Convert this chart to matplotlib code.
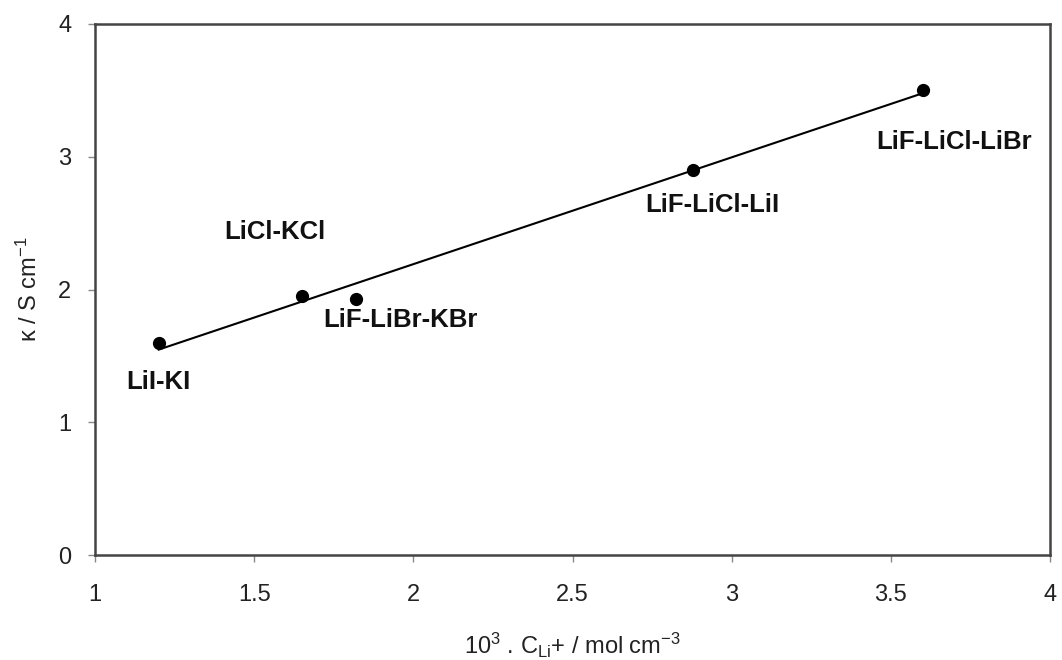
import numpy as np
import matplotlib
matplotlib.use("Agg")
import matplotlib.pyplot as plt

plt.rcParams['font.family'] = ['Liberation Sans', 'DejaVu Sans']
plt.rcParams['mathtext.default'] = 'regular'

# datos
c_li = [1.2, 1.65, 1.82, 2.88, 3.6]
kappa = [1.6, 1.95, 1.93, 2.9, 3.5]
names = ["LiI-KI", "LiCl-KCl", "LiF-LiBr-KBr", "LiF-LiCl-LiI", "LiF-LiCl-LiBr"]
label_x = [1.198, 1.566, 1.958, 2.94, 3.70]
label_y = [1.30, 2.43, 1.77, 2.64, 3.11]

x_ticks = [1, 1.5, 2, 2.5, 3, 3.5, 4]
x_tick_labels = ["1", "1.5", "2", "2.5", "3", "3.5", "4"]
y_ticks = [0, 1, 2, 3, 4]

# ajuste lineal
m, b = np.polyfit(c_li, kappa, 1)
xf = np.array([min(c_li), max(c_li)])

fig = plt.figure(figsize=(10.62, 6.6), dpi=100)
ax = fig.add_axes([95/1062, 1 - 555/660, 955/1062, 531/660])

ax.plot(xf, m * xf + b, color="black", lw=1.5)
ax.plot(c_li, kappa, "o", color="black", ms=8.5)

for nx, ny, t in zip(label_x, label_y, names):
    ax.text(nx, ny, t, ha="center", va="center", fontsize=18.5,
            fontweight="bold", color="#111111")

ax.set_xlim(1, 4)
ax.set_ylim(0, 4)
ax.set_xticks(x_ticks)
ax.set_xticklabels(x_tick_labels)
ax.set_yticks(y_ticks)
ax.tick_params(direction="out", length=5, width=1, colors="#888888",
               labelsize=17, labelcolor="#222222")
ax.tick_params(axis="x", pad=16)
ax.tick_params(axis="y", pad=12)
for s in ax.spines.values():
    s.set_linewidth(1.8)
    s.set_color("#444444")

ax.set_xlabel("10$^3$ . C$_{Li}$+ / mol cm$^{-3}$", fontsize=17, color="#222222", labelpad=18)
ax.set_ylabel("κ / S cm$^{-1}$", fontsize=17, color="#222222", labelpad=12)

fig.savefig("out.png", dpi=100)
